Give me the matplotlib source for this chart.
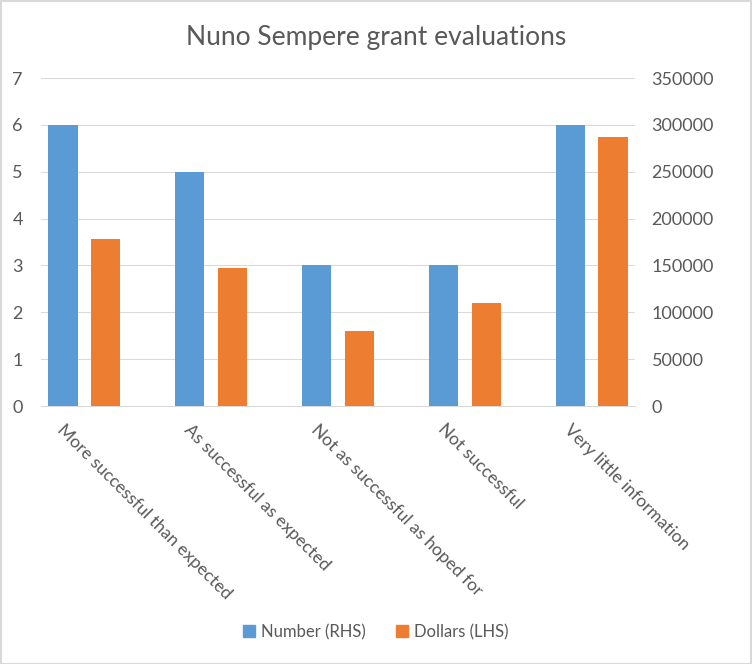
import matplotlib.pyplot as plt
import numpy as np
from matplotlib.patches import Rectangle

categories = ["More successful than expected", "As successful as expected",
              "Not as successful as hoped for", "Not successful",
              "Very little information"]
number = [6, 5, 3, 3, 6]  # Number (RHS) - drawn on the left scale
dollars = [178000, 147000, 80000, 110000, 287000]  # Dollars (LHS) - drawn on the right scale

blue = "#5B9BD5"
orange = "#ED7D31"
grey_text = "#595959"
grid_col = "#D9D9D9"

plt.rcParams["font.family"] = ["Lato", "DejaVu Sans"]

W, H = 752, 664
fig = plt.figure(figsize=(W / 100, H / 100), dpi=100)
left, right, top, bottom = 41, 635, 78, 406
ax = fig.add_axes([left / W, 1 - bottom / H, (right - left) / W, (bottom - top) / H])
ax2 = ax.twinx()

x = np.arange(len(categories))
width = 0.23
off = 0.167

ax.bar(x - off, number, width, color=blue, zorder=3)
ax2.bar(x + off, dollars, width, color=orange, zorder=3)

ax.set_xlim(-0.34, 4.34)
ax.set_ylim(0, 7)
ax2.set_ylim(0, 350000)
ax.set_yticks(range(0, 8))
ax2.set_yticks(range(0, 350001, 50000))

ax.grid(axis="y", color=grid_col, linewidth=0.75, zorder=0)
ax.set_axisbelow(True)
for a in (ax, ax2):
    for s in a.spines.values():
        s.set_visible(False)
ax.spines["bottom"].set_visible(True)
ax.spines["bottom"].set_color(grid_col)
ax.spines["bottom"].set_linewidth(0.75)

ax.tick_params(axis="y", length=0, pad=13, labelsize=13, labelcolor=grey_text)
ax2.tick_params(axis="y", length=0, pad=12, labelsize=13, labelcolor=grey_text)

ax.set_xticks(x - 0.15)
ax.set_xticklabels(categories, rotation=-45, ha="left", va="top",
                   rotation_mode="anchor", fontsize=12.6, color=grey_text)
ax.tick_params(axis="x", length=0, pad=11)

fig.text(0.5, 1 - 37 / H, "Nuno Sempere grant evaluations", ha="center", va="center",
         fontsize=19, color=grey_text)

handles = [Rectangle((0, 0), 1, 1, color=blue), Rectangle((0, 0), 1, 1, color=orange)]
fig.legend(handles, ["Number (RHS)", "Dollars (LHS)"], loc="center",
           bbox_to_anchor=(0.5, 1 - 632 / H), ncol=2, frameon=False,
           handlelength=0.7, handleheight=0.7, handletextpad=0.4, columnspacing=1.8,
           fontsize=12, labelcolor=grey_text)

fig.patches.append(Rectangle((0.5 / W, 0.5 / H), 1 - 1.5 / W, 1 - 1.5 / H,
                             transform=fig.transFigure, fill=False,
                             edgecolor=grid_col, linewidth=1.5))

plt.savefig("out.png", dpi=100)
